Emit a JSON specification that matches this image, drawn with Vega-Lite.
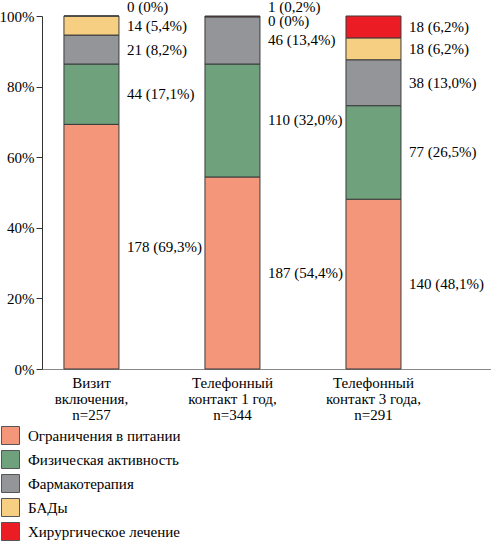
{
  "$schema": "https://vega.github.io/schema/vega-lite/v6.json",
  "width": 449,
  "height": 353,
  "autosize": {"type": "none"},
  "padding": {"left": 42, "top": 16, "right": 0, "bottom": 172},
  "data": {
    "values": [
      {"visit": "Визит|включения,|n=257", "cat": "Ограничения в питании", "n": 178, "pct": 69.3},
      {"visit": "Визит|включения,|n=257", "cat": "Физическая активность", "n": 44, "pct": 17.1},
      {"visit": "Визит|включения,|n=257", "cat": "Фармакотерапия", "n": 21, "pct": 8.2},
      {"visit": "Визит|включения,|n=257", "cat": "БАДы", "n": 14, "pct": 5.4},
      {"visit": "Визит|включения,|n=257", "cat": "Хирургическое лечение", "n": 0, "pct": 0},
      {"visit": "Телефонный|контакт 1 год,|n=344", "cat": "Ограничения в питании", "n": 187, "pct": 54.4},
      {"visit": "Телефонный|контакт 1 год,|n=344", "cat": "Физическая активность", "n": 110, "pct": 32.0},
      {"visit": "Телефонный|контакт 1 год,|n=344", "cat": "Фармакотерапия", "n": 46, "pct": 13.4},
      {"visit": "Телефонный|контакт 1 год,|n=344", "cat": "БАДы", "n": 0, "pct": 0},
      {"visit": "Телефонный|контакт 1 год,|n=344", "cat": "Хирургическое лечение", "n": 1, "pct": 0.2},
      {"visit": "Телефонный|контакт 3 года,|n=291", "cat": "Ограничения в питании", "n": 140, "pct": 48.1},
      {"visit": "Телефонный|контакт 3 года,|n=291", "cat": "Физическая активность", "n": 77, "pct": 26.5},
      {"visit": "Телефонный|контакт 3 года,|n=291", "cat": "Фармакотерапия", "n": 38, "pct": 13.0},
      {"visit": "Телефонный|контакт 3 года,|n=291", "cat": "БАДы", "n": 18, "pct": 6.2},
      {"visit": "Телефонный|контакт 3 года,|n=291", "cat": "Хирургическое лечение", "n": 18, "pct": 6.2}
    ]
  },
  "transform": [
    {"calculate": "indexof(['Ограничения в питании','Физическая активность','Фармакотерапия','БАДы','Хирургическое лечение'], datum.cat)", "as": "ord"},
    {"stack": "pct", "groupby": ["visit"], "sort": [{"field": "ord", "order": "ascending"}], "as": ["y0", "y1"]},
    {"calculate": "datum.pct < 1 ? (datum.ord == 4 ? 102.6 : 98.5) : (datum.y0 + datum.y1) / 2", "as": "labelY"},
    {"calculate": "datum.n + ' (' + (datum.pct == 0 ? '0' : replace(format(datum.pct, '.1f'), '.', ',')) + '%)'", "as": "label"}
  ],
  "encoding": {
    "x": {
      "field": "visit",
      "type": "nominal",
      "sort": null,
      "scale": {"paddingInner": 0.61, "paddingOuter": 0.397, "align": 0.196},
      "axis": {
        "title": null,
        "labelAngle": 0,
        "ticks": false,
        "domainColor": "#888888",
        "labelFont": "Liberation Serif",
        "labelFontSize": 15,
        "labelColor": "black",
        "labelPadding": 6,
        "labelLineHeight": 16,
        "labelExpr": "split(datum.label, '|')"
      }
    }
  },
  "layer": [
    {
      "mark": {"type": "bar", "stroke": "#3b3b3b", "strokeWidth": 1},
      "encoding": {
        "y": {
          "field": "y1",
          "type": "quantitative",
          "scale": {"domain": [0, 100], "nice": false},
          "axis": {
            "title": null,
            "grid": false,
            "values": [0, 20, 40, 60, 80, 100],
            "labelExpr": "datum.value + '%'",
            "domainColor": "#333333",
            "tickColor": "#333333",
            "tickSize": 6,
            "labelPadding": 2,
            "labelFont": "Liberation Serif",
            "labelFontSize": 15,
            "labelColor": "black"
          }
        },
        "y2": {"field": "y0"},
        "color": {
          "field": "cat",
          "type": "nominal",
          "scale": {
            "domain": ["Ограничения в питании", "Физическая активность", "Фармакотерапия", "БАДы", "Хирургическое лечение"],
            "range": ["#F4967A", "#6FA17C", "#939598", "#F6CF82", "#EC1C24"]
          },
          "legend": {
            "orient": "none",
            "legendX": -41,
            "legendY": 410,
            "title": null,
            "symbolType": "square",
            "symbolSize": 324,
            "symbolStrokeColor": "#555555",
            "symbolStrokeWidth": 1,
            "symbolOpacity": 1,
            "labelFont": "Liberation Serif",
            "labelFontSize": 15,
            "labelColor": "black",
            "rowPadding": 1,
            "labelOffset": 8
          }
        }
      }
    },
    {
      "mark": {"type": "text", "align": "left", "baseline": "middle", "dx": 8, "font": "Liberation Serif", "fontSize": 15, "color": "black"},
      "encoding": {
        "x": {"field": "visit", "type": "nominal", "sort": null, "bandPosition": 1},
        "y": {"field": "labelY", "type": "quantitative"},
        "text": {"field": "label"}
      }
    }
  ],
  "config": {"view": {"stroke": null}}
}
